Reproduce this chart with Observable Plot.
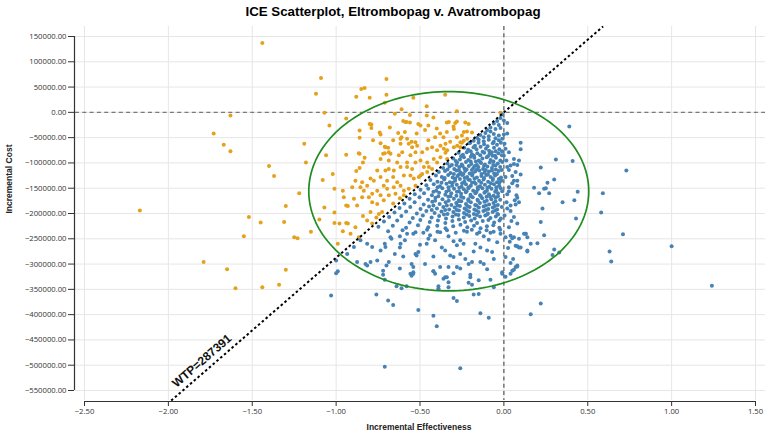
<!DOCTYPE html>
<html>
<head>
<meta charset="utf-8">
<script src="https://cdn.jsdelivr.net/npm/d3@7"></script>
<script src="https://cdn.jsdelivr.net/npm/@observablehq/plot@0.6"></script>
<style>
  html, body { margin: 0; padding: 0; background: #fff; }
</style>
</head>
<body>
<div id="chart"></div>
<script>
// ICE scatterplot of probabilistic sensitivity analysis draws
const title = "ICE Scatterplot, Eltrombopag v. Avatrombopag";
const xLabel = "Incremental Effectiveness";
const yLabel = "Incremental Cost";
const wtp = 287391;

const xDomain = [-2.5, 1.5];
const yDomain = [-550000, 150000];
const xTicks = [-2.5, -2.0, -1.5, -1.0, -0.5, 0.0, 0.5, 1.0, 1.5];
const yTicks = [150000, 100000, 50000, 0, -50000, -100000, -150000, -200000, -250000,
  -300000, -350000, -400000, -450000, -500000, -550000];

// 95% confidence ellipse: centre (effect, cost) and semi-axes
const ellipseCenter = [-0.3285, -156000];
const ellipseRadii = [0.8345, 197000];

// WTP line spans this cost range
const wtpCostSpan = [-570000, 170000];

// [incremental effectiveness, incremental cost] per simulation
const psaDraws = [
  // left tail and north-west quadrant
  [-1.44,137e3],[-1.09,68e3],[-1.12,37e3],[-0.70,66e3],[-0.85,46e3],[-0.83,48e3],[-0.88,31e3],[-0.80,29e3],
  [-0.70,35e3],[-1.07,-1e3],[-1.63,-6e3],[-1.73,-42e3],[-1.67,-64e3],[-1.63,-77e3],[-1.04,-26e3],[-0.94,-12e3],
  [-1.19,-62e3],[-1.18,-99e3],[-1.06,-85e3],[-1.40,-106e3],[-1.37,-126e3],[-1.22,-160e3],[-1.08,-134e3],
  [-1.02,-122e3],[-0.94,-84e3],[-1.01,-151e3],[-0.96,-155e3],[-2.17,-194e3],[-1.30,-185e3],[-1.52,-207e3],
  [-1.45,-218e3],[-1.31,-217e3],[-1.10,-212e3],[-1.07,-188e3],[-1.01,-198e3],[-0.94,-184e3],[-0.93,-185e3],
  [-1.01,-219e3],[-0.98,-220e3],[-0.94,-219e3],[-0.93,-220e3],[-1.55,-245e3],[-1.25,-247e3],[-1.23,-249e3],
  [-1.15,-236e3],[-1.79,-296e3],[-1.65,-310e3],[-1.30,-311e3],[-1.60,-348e3],[-1.44,-346e3],[-1.34,-341e3],
  [-0.54,29e3],[-0.35,35e3],[-0.71,19e3],[-0.61,6e3],[-0.65,-3e3],[-0.56,-5e3],[-0.46,12e3],[-0.46,-6e3],
  [-0.42,-10e3],[-0.28,2e3],[-0.80,-23e3],[-0.60,-17e3],[-0.58,-19e3],[-0.56,-20e3],[-0.51,-23e3],[-0.45,-26e3],
  [-0.34,-20e3],[-0.29,-21e3],[-0.28,-18e3],[-0.23,-20e3],[-0.21,-23e3],[-0.02,-1e3],
  [-0.86,-36e3],[-0.86,-50e3],[-0.79,-31e3],[-0.79,-24e3],[-0.86,-82e3],[-0.84,-99e3],[-0.83,-90e3],
  [-0.86,-110e3],[-0.88,-116e3],[-0.74,-40e3],[-0.71,-68e3],[-0.69,-70e3],[-0.72,-82e3],[-0.71,-81e3],
  [-0.735,-44e3],[-0.63,-41e3],[-0.61,-49e3],[-0.59,-39e3],[-0.52,-42e3],[-0.38,-42e3],[-0.34,-39e3],
  [-0.36,-49e3],[-0.28,-49e3],[-0.25,-46e3],[-0.41,-49e3],[-0.30,-28e3],[-0.47,-35e3],[-0.45,-55e3],
  [-0.55,-58e3],[-0.66,-55e3],[-0.22,-38e3],[-0.19,-40e3],[-0.32,-58e3],[-0.25,-60e3],[-0.40,-32e3],
  [-0.68,-30e3],[-0.78,-55e3],[-0.239,-39e3],[-0.298,-33e3],[-0.328,-19e3],[-0.587,-19e3],[-0.577,-52e3],
  [-0.497,-26e3],
  [-0.735,-61e3],[-0.706,-69e3],[-0.686,-79e3],[-0.616,-52e3],[-0.616,-62e3],[-0.567,-62e3],[-0.527,-59e3],
  [-0.517,-66e3],[-0.547,-69e3],[-0.487,-79e3],[-0.527,-79e3],[-0.557,-85e3],[-0.606,-79e3],[-0.626,-85e3],
  [-0.676,-82e3],[-0.735,-92e3],[-0.457,-72e3],[-0.428,-69e3],[-0.398,-75e3],[-0.378,-66e3],[-0.348,-62e3],
  [-0.358,-72e3],[-0.338,-75e3],[-0.298,-69e3],[-0.278,-66e3],[-0.259,-59e3],[-0.219,-52e3],[-0.239,-56e3],
  [-0.378,-89e3],[-0.418,-92e3],[-0.398,-99e3],[-0.457,-99e3],[-0.497,-95e3],[-0.527,-99e3],[-0.577,-99e3],
  [-0.636,-99e3],[-0.686,-95e3],[-0.865,-81e3],[-0.338,-92e3],[-0.348,-80e3],[-0.259,-69e3],
  [-0.755,-115e3],[-0.706,-115e3],[-0.686,-112e3],[-0.656,-115e3],[-0.616,-108e3],[-0.577,-108e3],
  [-0.547,-112e3],[-0.477,-108e3],[-0.447,-108e3],[-0.885,-135e3],[-0.845,-138e3],[-0.795,-131e3],
  [-0.775,-135e3],[-0.735,-128e3],[-0.696,-135e3],[-0.66,-128e3],[-0.636,-138e3],[-0.596,-125e3],
  [-0.557,-125e3],[-0.537,-131e3],[-0.507,-128e3],[-0.487,-122e3],[-0.904,-148e3],[-0.855,-148e3],
  [-0.835,-155e3],[-0.815,-145e3],[-0.755,-155e3],[-0.716,-145e3],[-0.696,-151e3],[-0.656,-148e3],
  [-0.616,-145e3],[-0.596,-155e3],[-0.428,-112e3],[-0.457,-118e3],[-0.497,-125e3],[-0.527,-145e3],
  [-0.567,-151e3],[-0.596,-164e3],
  [-0.805,-168e3],[-0.785,-161e3],[-0.735,-164e3],[-0.686,-164e3],[-0.646,-161e3],[-0.894,-171e3],
  [-0.845,-168e3],[-0.954,-168e3],[-0.785,-178e3],[-0.755,-181e3],[-0.716,-174e3],[-0.875,-184e3],
  [-0.795,-197e3],[-0.745,-201e3],[-0.726,-197e3],[-0.66,-180e3],[-0.62,-170e3],
  [-0.815,-214e3],[-0.785,-220e3],[-0.914,-240e3],[-0.885,-227e3],[-0.990,-260e3],[-0.865,-247e3],
  [-0.96,-235e3],[-0.84,-205e3],[-0.76,-208e3],

  // central cloud, south-west quadrant
  [-0.01,-4e3],[-0.02,-11e3],[-0.04,-17e3],[0.00,-16e3],[-0.03,-25e3],[-0.06,-22e3],[-0.08,-30e3],[-0.05,-33e3],
  [-0.10,-35e3],[-0.02,-31e3],[-0.11,-41e3],[-0.14,-45e3],[-0.08,-38e3],[-0.06,-43e3],[-0.03,-46e3],[-0.12,-49e3],
  [-0.16,-50e3],[-0.09,-47e3],[-0.05,-51e3],[-0.18,-56e3],[-0.15,-54e3],[-0.12,-57e3],[-0.09,-54e3],[-0.06,-58e3],
  [-0.03,-55e3],[-0.20,-60e3],[-0.01,-52e3],
  [-0.207,-61e3],[-0.172,-66e3],[-0.151,-60e3],[-0.118,-63e3],[-0.097,-67e3],[-0.066,-61e3],[-0.041,-64e3],[-0.018,-60e3],
  [-0.236,-70e3],[-0.213,-74e3],[-0.181,-69e3],[-0.163,-73e3],[-0.139,-68e3],[-0.107,-72e3],[-0.088,-76e3],[-0.059,-70e3],[-0.027,-73e3],[-0.049,-77e3],
  [-0.27,-80e3],[-0.244,-84e3],[-0.221,-79e3],[-0.19,-83e3],[-0.158,-81e3],[-0.141,-85e3],[-0.117,-80e3],[-0.085,-82e3],[-0.068,-86e3],[-0.032,-81e3],[-0.012,-85e3],[-0.197,-88e3],
  [-0.302,-91e3],[-0.262,-93e3],[-0.238,-89e3],[-0.212,-94e3],[-0.176,-90e3],[-0.149,-95e3],[-0.128,-91e3],[-0.102,-89e3],[-0.079,-94e3],[-0.047,-90e3],[-0.021,-95e3],[-0.167,-97e3],
  [-0.336,-101e3],[-0.31,-104e3],[-0.279,-99e3],[-0.251,-103e3],[-0.226,-98e3],[-0.194,-102e3],[-0.161,-104e3],[-0.136,-100e3],[-0.113,-103e3],[-0.084,-99e3],[-0.063,-104e3],[-0.036,-101e3],[-0.009,-98e3],
  [-0.362,-110e3],[-0.324,-107e3],[-0.296,-112e3],[-0.266,-108e3],[-0.235,-111e3],[-0.209,-106e3],[-0.182,-110e3],[-0.152,-108e3],[-0.124,-112e3],[-0.098,-107e3],[-0.071,-110e3],[-0.048,-113e3],[-0.022,-108e3],[-0.191,-114e3],
  [-0.388,-118e3],[-0.351,-116e3],[-0.318,-120e3],[-0.283,-115e3],[-0.258,-119e3],[-0.231,-116e3],[-0.204,-121e3],[-0.171,-117e3],[-0.146,-115e3],[-0.115,-119e3],[-0.089,-117e3],[-0.058,-121e3],[-0.031,-116e3],[-0.268,-123e3],
  [-0.405,-125e3],[-0.37,-128e3],[-0.332,-124e3],[-0.305,-129e3],[-0.276,-126e3],[-0.248,-124e3],[-0.219,-128e3],[-0.189,-125e3],[-0.161,-129e3],[-0.134,-126e3],[-0.105,-124e3],[-0.079,-128e3],[-0.052,-125e3],[-0.017,-129e3],[-0.212,-133e3],
  [-0.438,-134e3],[-0.396,-137e3],[-0.356,-133e3],[-0.322,-138e3],[-0.291,-135e3],[-0.262,-132e3],[-0.236,-137e3],[-0.203,-134e3],[-0.176,-138e3],[-0.148,-135e3],[-0.121,-133e3],[-0.094,-137e3],[-0.066,-134e3],[-0.041,-138e3],[-0.014,-135e3],
  [-0.462,-144e3],[-0.418,-142e3],[-0.381,-146e3],[-0.342,-141e3],[-0.309,-145e3],[-0.281,-143e3],[-0.252,-147e3],[-0.226,-142e3],[-0.197,-145e3],[-0.168,-141e3],[-0.142,-146e3],[-0.113,-143e3],[-0.087,-147e3],[-0.059,-142e3],[-0.028,-145e3],
  [-0.497,-153e3],[-0.451,-151e3],[-0.403,-155e3],[-0.367,-150e3],[-0.328,-154e3],[-0.297,-151e3],[-0.268,-156e3],[-0.239,-152e3],[-0.211,-150e3],[-0.183,-155e3],[-0.155,-152e3],[-0.128,-150e3],[-0.101,-155e3],[-0.074,-151e3],[-0.046,-154e3],[-0.019,-150e3],
  [-0.531,-162e3],[-0.476,-160e3],[-0.429,-164e3],[-0.386,-159e3],[-0.349,-163e3],[-0.314,-160e3],[-0.283,-165e3],[-0.255,-161e3],[-0.227,-158e3],[-0.199,-163e3],[-0.17,-160e3],[-0.142,-164e3],[-0.116,-159e3],[-0.089,-162e3],[-0.061,-165e3],[-0.035,-160e3],
  [-0.562,-171e3],[-0.503,-168e3],[-0.452,-173e3],[-0.408,-169e3],[-0.366,-172e3],[-0.331,-167e3],[-0.298,-171e3],[-0.268,-174e3],[-0.241,-169e3],[-0.212,-172e3],[-0.186,-168e3],[-0.157,-173e3],[-0.129,-170e3],[-0.103,-167e3],[-0.075,-172e3],[-0.049,-169e3],[-0.022,-173e3],
  [-0.593,-180e3],[-0.532,-178e3],[-0.478,-182e3],[-0.427,-177e3],[-0.383,-181e3],[-0.347,-178e3],[-0.313,-183e3],[-0.284,-179e3],[-0.254,-176e3],[-0.226,-181e3],[-0.197,-178e3],[-0.171,-183e3],[-0.143,-179e3],[-0.116,-177e3],[-0.088,-182e3],[-0.062,-179e3],[-0.036,-183e3],
  [-0.622,-189e3],[-0.558,-187e3],[-0.497,-191e3],[-0.446,-186e3],[-0.399,-190e3],[-0.361,-187e3],[-0.326,-192e3],[-0.293,-188e3],[-0.262,-185e3],[-0.234,-190e3],[-0.204,-187e3],[-0.176,-192e3],[-0.149,-188e3],[-0.121,-186e3],[-0.093,-191e3],[-0.066,-188e3],[-0.04,-192e3],[-0.012,-187e3],
  [-0.652,-198e3],[-0.583,-196e3],[-0.519,-200e3],[-0.462,-195e3],[-0.413,-199e3],[-0.372,-196e3],[-0.336,-201e3],[-0.301,-197e3],[-0.268,-194e3],[-0.238,-199e3],[-0.208,-196e3],[-0.179,-201e3],[-0.151,-197e3],[-0.122,-195e3],[-0.095,-200e3],[-0.067,-197e3],[-0.038,-201e3],
  [-0.684,-207e3],[-0.611,-205e3],[-0.543,-209e3],[-0.483,-204e3],[-0.431,-208e3],[-0.386,-205e3],[-0.345,-210e3],[-0.306,-206e3],[-0.271,-203e3],[-0.239,-208e3],[-0.206,-205e3],[-0.174,-210e3],[-0.142,-206e3],[-0.111,-204e3],[-0.08,-209e3],[-0.048,-206e3],[-0.018,-210e3],
  [-0.715,-216e3],[-0.636,-214e3],[-0.562,-218e3],[-0.498,-213e3],[-0.442,-217e3],[-0.393,-214e3],[-0.349,-219e3],[-0.307,-215e3],[-0.268,-212e3],[-0.231,-217e3],[-0.195,-214e3],[-0.16,-219e3],[-0.126,-215e3],[-0.092,-213e3],[-0.058,-218e3],[-0.026,-214e3],
  [-0.748,-226e3],[-0.662,-224e3],[-0.583,-228e3],[-0.512,-223e3],[-0.451,-227e3],[-0.397,-224e3],[-0.348,-229e3],[-0.302,-225e3],[-0.259,-222e3],[-0.218,-227e3],[-0.178,-224e3],[-0.139,-229e3],[-0.101,-225e3],[-0.063,-223e3],[-0.027,-228e3],
  [-0.69,-235e3],[-0.604,-233e3],[-0.527,-237e3],[-0.458,-232e3],[-0.396,-236e3],[-0.339,-233e3],[-0.287,-238e3],[-0.238,-234e3],[-0.191,-232e3],[-0.146,-237e3],[-0.103,-233e3],[-0.061,-236e3],[-0.022,-232e3],
  // densest part of the cloud
  [-0.198,-77e3],[-0.127,-78e3],[-0.072,-79e3],[-0.011,-77e3],
  [-0.255,-87e3],[-0.178,-86e3],[-0.095,-87e3],[-0.052,-86e3],
  [-0.287,-96e3],[-0.198,-97e3],[-0.141,-98e3],[-0.062,-97e3],
  [-0.246,-106e3],[-0.173,-106e3],[-0.119,-106e3],[-0.05,-105e3],[-0.283,-104e3],
  [-0.336,-113e3],[-0.268,-114e3],[-0.222,-113e3],[-0.161,-113e3],[-0.108,-114e3],[-0.071,-115e3],[-0.012,-114e3],
  [-0.298,-122e3],[-0.241,-122e3],[-0.186,-121e3],[-0.133,-122e3],[-0.095,-123e3],[-0.041,-122e3],
  [-0.353,-130e3],[-0.29,-131e3],[-0.234,-130e3],[-0.175,-131e3],[-0.118,-130e3],[-0.066,-131e3],[-0.03,-132e3],
  [-0.372,-139e3],[-0.305,-139e3],[-0.249,-140e3],[-0.19,-139e3],[-0.135,-139e3],[-0.078,-140e3],[-0.027,-139e3],
  [-0.395,-148e3],[-0.33,-148e3],[-0.266,-149e3],[-0.211,-148e3],[-0.155,-148e3],[-0.098,-149e3],[-0.045,-148e3],
  [-0.42,-157e3],[-0.343,-157e3],[-0.28,-157e3],[-0.222,-156e3],[-0.163,-157e3],[-0.111,-157e3],[-0.052,-157e3],[-0.01,-156e3],
  [-0.391,-166e3],[-0.318,-166e3],[-0.255,-167e3],[-0.198,-166e3],[-0.137,-166e3],[-0.082,-167e3],[-0.035,-166e3],
  [-0.41,-175e3],[-0.329,-175e3],[-0.27,-176e3],[-0.212,-175e3],[-0.155,-175e3],[-0.102,-175e3],[-0.05,-176e3],
  [-0.42,-184e3],[-0.34,-184e3],[-0.276,-184e3],[-0.218,-185e3],[-0.163,-184e3],[-0.107,-184e3],[-0.053,-185e3],
  [-0.43,-193e3],[-0.35,-193e3],[-0.281,-193e3],[-0.222,-193e3],[-0.165,-194e3],[-0.108,-193e3],[-0.052,-194e3],
  [-0.357,-202e3],[-0.286,-202e3],[-0.223,-202e3],[-0.161,-203e3],[-0.1,-202e3],[-0.035,-202e3],

  // lower spread of the cloud
  [-0.71,-260e3],[-0.67,-250e3],[-0.62,-267e3],[-0.59,-253e3],[-0.54,-240e3],[-0.51,-276e3],[-0.52,-283e3],
  [-0.46,-260e3],[-0.44,-243e3],[-0.41,-253e3],[-0.38,-237e3],[-0.37,-267e3],[-0.35,-273e3],[-0.32,-283e3],
  [-0.30,-286e3],[-0.28,-263e3],[-0.26,-253e3],[-0.24,-260e3],[-0.23,-290e3],[-0.21,-300e3],[-0.19,-296e3],
  [-0.17,-260e3],[-0.14,-267e3],[-0.16,-240e3],[-0.14,-296e3],[-0.12,-300e3],[-0.10,-273e3],[-0.07,-276e3],
  [-0.04,-257e3],[-0.02,-240e3],[-0.28,-306e3],[-0.33,-306e3],[-0.26,-309e3],[-0.34,-326e3],[-0.20,-326e3],
  [-0.15,-332e3],[-0.41,-319e3],[-0.54,-306e3],[-0.42,-314e3],[-0.38,-306e3],[-0.36,-329e3],[-0.33,-336e3],
  [-0.39,-349e3],[-0.01,-316e3],[0.05,-313e3],[0.07,-306e3],[0.08,-303e3],[0.09,-267e3],[0.13,-240e3],
  [0.14,-273e3],[0.04,-244e3],[0.05,-249e3],[-0.72,-313e3],[-0.70,-303e3],[-0.55,-300e3],[-0.54,-316e3],
  [-1.00,-293e3],[-0.875,-296e3],[-0.825,-300e3],[-0.795,-296e3],[-0.815,-303e3],[-0.686,-296e3],[-0.62,-309e3],
  [-0.557,-319e3],[-0.735,-273e3],[-0.706,-266e3],[-0.616,-260e3],[-0.676,-247e3],[-0.577,-240e3],[-0.527,-280e3],
  [-0.755,-293e3],[-0.785,-266e3],[-0.815,-260e3],[-0.855,-253e3],[-0.894,-266e3],[-0.934,-280e3],
  [-0.48,-238e3],[-0.33,-245e3],[-0.22,-236e3],[-0.12,-245e3],[-0.08,-238e3],[-0.45,-250e3],[-0.30,-255e3],
  [-0.09,-252e3],[-0.62,-245e3],[-0.50,-262e3],[-0.18,-275e3],[-0.26,-280e3],[-0.42,-285e3],[-0.06,-290e3],
  [-0.47,-300e3],[-0.10,-310e3],[-0.60,-285e3],[-0.65,-280e3],

  // just right of zero effect
  [0.02,-42e3],[0.004,-62e3],[0.03,-79e3],[0.06,-92e3],[0.09,-95e3],[0.04,-105e3],[0.02,-108e3],[0.07,-118e3],
  [0.01,-128e3],[0.06,-135e3],[0.08,-135e3],[0.03,-148e3],[0.075,-164e3],[0.09,-178e3],[0.016,-178e3],
  [0.04,-184e3],[0.07,-182e3],[0.004,-204e3],[0.06,-207e3],[0.08,-220e3],[0.03,-227e3],[0.01,-247e3],
  [0.06,-247e3],[0.01,-286e3],[0.04,-298e3],[0.14,-247e3],[0.12,-240e3],[0.16,-260e3],[0.035,-256e3],
  [0.05,-140e3],[0.08,-145e3],[0.03,-156e3],[0.065,-174e3],[0.08,-169e3],[0.04,-195e3],[0.02,-190e3],
  [0.03,-114e3],[0.015,-95e3],[0.01,-72e3],[0.0,-86e3],[0.05,-126e3],[0.02,-162e3],[0.045,-215e3],
  [0.025,-268e3],[0.055,-290e3],

  // scattered draws to the right and below
  [0.02,-21e3],[0.00,-44e3],[0.39,-28e3],[0.10,-60e3],[0.10,-73e3],[0.31,-93e3],[0.41,-96e3],[0.22,-109e3],
  [0.73,-115e3],[0.06,-102e3],[0.08,-104e3],[0.10,-123e3],[0.18,-149e3],[0.26,-139e3],[0.30,-133e3],
  [0.24,-151e3],[0.25,-150e3],[0.21,-160e3],[0.27,-160e3],[0.35,-178e3],[0.44,-157e3],[0.42,-174e3],
  [0.59,-160e3],[0.58,-198e3],[0.23,-190e3],[0.43,-210e3],[0.22,-217e3],[0.24,-243e3],[0.20,-259e3],
  [0.13,-240e3],[0.09,-250e3],[0.07,-264e3],[0.08,-265e3],[0.10,-267e3],[0.14,-275e3],[0.71,-241e3],
  [1.00,-265e3],[0.63,-275e3],[0.64,-295e3],[0.30,-271e3],[0.29,-282e3],[0.33,-277e3],[1.24,-343e3],
  [0.08,-305e3],[0.06,-311e3],[0.04,-319e3],[0.01,-325e3],[0.22,-378e3],[0.16,-399e3],
  [-1.03,-362e3],[-1.00,-318e3],[-0.99,-314e3],[-0.76,-360e3],[-0.69,-372e3],[-0.66,-381e3],[-0.72,-321e3],
  [-0.71,-331e3],[-0.64,-344e3],[-0.61,-348e3],[-0.58,-344e3],[-0.55,-323e3],[-0.54,-319e3],[-0.51,-391e3],
  [-0.42,-402e3],[-0.40,-423e3],[-0.42,-314e3],[-0.39,-344e3],[-0.39,-350e3],[-0.35,-326e3],[-0.33,-346e3],
  [-0.30,-318e3],[-0.30,-367e3],[-0.28,-373e3],[-0.21,-337e3],[-0.19,-341e3],[-0.20,-321e3],[-0.18,-360e3],
  [-0.15,-359e3],[-0.14,-397e3],[-0.09,-406e3],[-0.08,-331e3],[-0.06,-346e3],[-0.01,-319e3],
  [-0.71,-503e3],[-0.26,-506e3]
];

const orange = "#e5a11c";
const blue = "#4682b4";
const green = "#1f8c1f";

const width = 767, height = 432;
const margin = {top: 36, right: 12, bottom: 42, left: 84};

const fmt = d3.format(".2f");
const aboveWtp = d => d[1] > wtp * d[0];

// ellipse outline
const ellipse = d3.range(0, 361, 2).map(a => {
  const t = a * Math.PI / 180;
  return [ellipseCenter[0] + ellipseRadii[0] * Math.cos(t), ellipseCenter[1] + ellipseRadii[1] * Math.sin(t)];
});

const wtpLine = wtpCostSpan.map(c => [c / wtp, c]);

// on-screen angle of the WTP line
const pxPerEffect = (width - margin.left - margin.right) / (xDomain[1] - xDomain[0]);
const pxPerCost = (height - margin.top - margin.bottom) / (yDomain[1] - yDomain[0]);
const wtpAngle = -Math.atan(wtp * pxPerCost / pxPerEffect) * 180 / Math.PI;
const wtpLabelAt = -1.80;

const gridColor = "#e6e6e6";
const axisColor = "#333";
const labelFont = "'Liberation Sans', Arial, sans-serif";

const chart = Plot.plot({
  width, height,
  marginTop: margin.top, marginRight: margin.right, marginBottom: margin.bottom, marginLeft: margin.left,
  x: {domain: xDomain},
  y: {domain: yDomain},
  style: {fontFamily: "'Open Sans', sans-serif", fontSize: "7.7px", background: "#fff", color: axisColor},
  marks: [
    // grid
    Plot.ruleY(yTicks, {stroke: gridColor, strokeWidth: 1, insetLeft: -9, insetRight: -10}),
    Plot.ruleX(xTicks, {stroke: gridColor, strokeWidth: 1, insetTop: -10, insetBottom: -10}),
    // zero reference lines
    Plot.ruleY([0], {stroke: "#7a7a7a", strokeWidth: 1.2, strokeDasharray: "4,3.3", insetLeft: -9, insetRight: -10}),
    Plot.ruleX([0], {stroke: "#555", strokeWidth: 1.2, strokeDasharray: "4,3.3", insetTop: -10, insetBottom: -10}),
    // simulations
    Plot.dot(psaDraws, {filter: aboveWtp, x: d => d[0], y: d => d[1], r: 2, fill: orange, stroke: "none"}),
    Plot.dot(psaDraws, {filter: d => !aboveWtp(d), x: d => d[0], y: d => d[1], r: 2, fill: blue, stroke: "none"}),
    // confidence ellipse
    Plot.line(ellipse, {x: d => d[0], y: d => d[1], stroke: green, strokeWidth: 1.7}),
    // willingness-to-pay threshold
    Plot.line(wtpLine, {x: d => d[0], y: d => d[1], stroke: "#000", strokeWidth: 2, strokeDasharray: "2.5,2.5", strokeLinecap: "butt"}),
    Plot.text([`WTP=${wtp}`], {
      x: wtpLabelAt, y: wtp * wtpLabelAt, dy: -13, rotate: wtpAngle,
      fontFamily: labelFont, fontWeight: "bold", fontSize: 12, fill: "#111"
    }),
    // axes
    Plot.ruleX([xDomain[0]], {dx: -10, stroke: axisColor, strokeWidth: 1.2}),
    Plot.ruleY([yDomain[0]], {dy: 11, stroke: axisColor, strokeWidth: 1.2}),
    Plot.axisY(yTicks, {anchor: "left", tickFormat: fmt, tickSize: 6, tickPadding: 2, dx: -10, label: null, stroke: axisColor, fill: axisColor}),
    Plot.axisX(xTicks, {anchor: "bottom", tickFormat: fmt, tickSize: 5, tickPadding: 2, dy: 11, label: null, stroke: axisColor, fill: axisColor}),
    // titles
    Plot.text([title], {frameAnchor: "top", dx: -27, dy: -21, lineAnchor: "bottom", fontFamily: labelFont, fontWeight: "bold", fontSize: 13.3, fill: "#000"}),
    Plot.text([xLabel], {frameAnchor: "bottom", dx: -1, dy: 39, lineAnchor: "bottom", fontFamily: labelFont, fontWeight: "bold", fontSize: 8.5, fill: "#222"}),
    Plot.text([yLabel], {frameAnchor: "left", dx: -73, rotate: -90, lineAnchor: "bottom", fontFamily: labelFont, fontWeight: "bold", fontSize: 8.5, fill: "#222"})
  ]
});

document.getElementById("chart").appendChild(chart);
</script>
</body>
</html>
